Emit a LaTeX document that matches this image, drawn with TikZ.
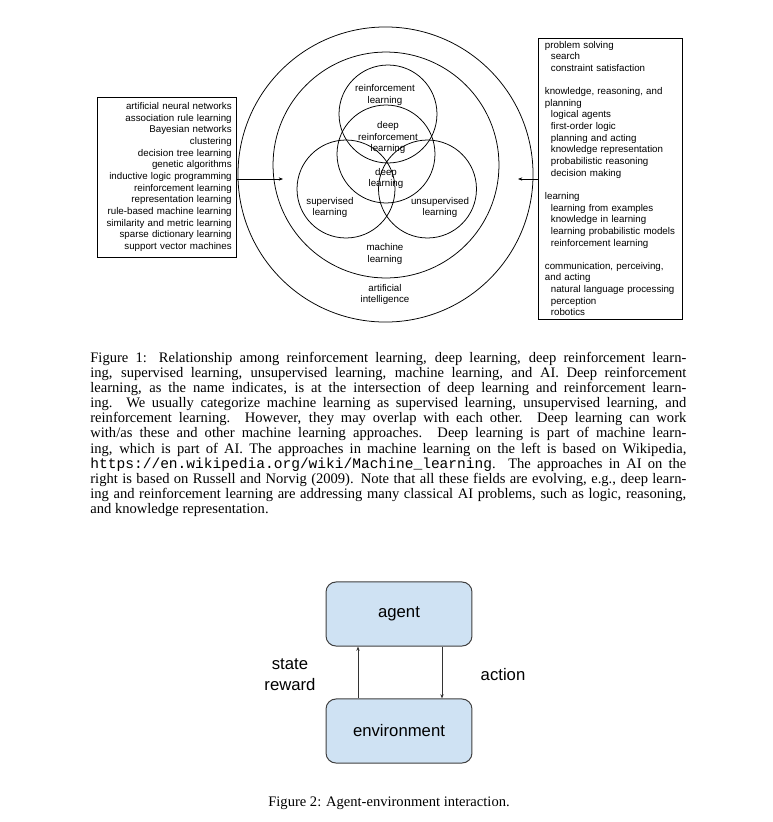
\documentclass[tikz,border=0pt]{standalone}
\usepackage{fontspec}
\setmainfont{Liberation Serif}
\setmonofont{Liberation Mono}
\newfontfamily\arialfont{Liberation Sans}
\usetikzlibrary{arrows.meta}
\definecolor{blockblue}{HTML}{CFE2F3}
\newcommand\subtopic[1]{\hspace*{4.7pt}#1}

\begin{document}
\begin{tikzpicture}[x=0.79pt, y=-0.79pt, line width=0.6pt, >={Stealth[length=3.4pt,width=2.6pt]},
  small/.style={font=\arialfont\fontsize{7.7}{9.2}\selectfont, inner sep=0pt, align=center},
  ring/.style={circle, draw, inner sep=0pt},
  listbox/.style={draw, line width=0.7pt, inner ysep=0pt, font=\arialfont\fontsize{7.7}{9.2}\selectfont},
  block/.style={draw=black!75, line width=0.8pt, fill=blockblue, rounded corners=7.9pt, minimum width=115.3pt, minimum height=50.6pt, font=\arialfont\fontsize{13.2}{16.6}\selectfont},
  biglabel/.style={font=\arialfont\fontsize{13.2}{16.6}\selectfont, inner sep=0pt, align=center},
  caption/.style={font=\fontsize{11.5}{12}\selectfont, inner sep=0pt}]
  \useasboundingbox (0,0) rectangle (772,822);

  % figure 1: nested fields
  \node[ring, minimum size=233.1pt] (ai) at (385.5,174.5) {};
  \node[ring, minimum size=178.5pt] (ml) at (386,165) {};
  \node[ring, minimum size=77.4pt] (rl) at (388,114) {};
  \node[ring, minimum size=77.4pt] (dl) at (386,154) {};
  \node[ring, minimum size=77.4pt] (sl) at (346,189) {};
  \node[ring, minimum size=77.4pt] (ul) at (427.5,189) {};

  \node[small] (rltext) at (385,95) {reinforcement\\learning};
  \node[small] (drltext) at (388,137.5) {deep\\reinforcement\\learning};
  \node[small] (dltext) at (386,178.5) {deep\\learning};
  \node[small] (sltext) at (330,207.5) {supervised\\learning};
  \node[small] (ultext) at (440,207.5) {unsupervised\\learning};
  \node[small] (mltext) at (385,254) {machine\\learning};
  \node[small] (aitext) at (385,294.5) {artificial\\intelligence};

  \node[listbox, align=right, text width=103pt, inner xsep=3.4pt, minimum height=126.4pt] (mlbox) at (166.5,177)
    {artificial neural networks\\association rule learning\\Bayesian networks\\clustering\\decision tree learning\\genetic algorithms\\inductive logic programming\\reinforcement learning\\representation learning\\rule-based machine learning\\similarity and metric learning\\sparse dictionary learning\\support vector machines};
  \node[listbox, align=left, text width=102.8pt, inner xsep=5.5pt, minimum height=222pt] (aibox) at (610,178.5)
    {problem solving\\\subtopic{search}\\\subtopic{constraint satisfaction}\\[9.2pt]
     knowledge, reasoning, and\\planning\\\subtopic{logical agents}\\\subtopic{first-order logic}\\\subtopic{planning and acting}\\\subtopic{knowledge representation}\\\subtopic{probabilistic reasoning}\\\subtopic{decision making}\\[9.2pt]
     learning\\\subtopic{learning from examples}\\\subtopic{knowledge in learning}\\\subtopic{learning probabilistic models}\\\subtopic{reinforcement learning}\\[9.2pt]
     communication, perceiving,\\and acting\\\subtopic{natural language processing}\\\subtopic{perception}\\\subtopic{robotics}};

  \coordinate (mltip) at (283,179);
  \coordinate (aitip) at (518,179);
  \draw[->] (mlbox.east |- mltip) -- (mltip);
  \draw[->] (aibox.west |- aitip) -- (aitip);

  \node[caption, anchor=base west, text width=470.8pt, align=justify] (cap1) at (90,362)
    {Figure 1: Relationship among reinforcement learning, deep learning, deep reinforcement learn-\linebreak
     ing, supervised learning, unsupervised learning, machine learning, and AI. Deep reinforcement\linebreak
     learning, as the name indicates, is at the intersection of deep learning and reinforcement learn-\linebreak
     ing. We usually categorize machine learning as supervised learning, unsupervised learning, and\linebreak
     reinforcement learning. However, they may overlap with each other. Deep learning can work\linebreak
     with/as these and other machine learning approaches. Deep learning is part of machine learn-\linebreak
     ing, which is part of AI. The approaches in machine learning on the left is based on Wikipedia,\linebreak
     \texttt{https://en.wikipedia.org/wiki/Machine\_learning}. The approaches in AI on the\linebreak
     right is based on Russell and Norvig (2009). Note that all these fields are evolving, e.g., deep learn-\linebreak
     ing and reinforcement learning are addressing many classical AI problems, such as logic, reasoning,\linebreak
     and knowledge representation.};

  % figure 2: agent and environment
  \node[block] (agent) at (399,614) {agent};
  \node[block] (env) at (399,731) {environment};
  \coordinate (upline) at (358,0);
  \coordinate (downline) at (442,0);
  \draw[->, draw=black!80] (env.north -| upline) -- (agent.south -| upline);
  \draw[->, draw=black!80] (agent.south -| downline) -- (env.north -| downline);
  \node[biglabel] (obs) at (290,674.5) {state\\reward};
  \node[biglabel] (act) at (503,675) {action};

  \node[caption, anchor=base] (cap2) at (389,806) {Figure 2: Agent-environment interaction.};
\end{tikzpicture}
\end{document}
